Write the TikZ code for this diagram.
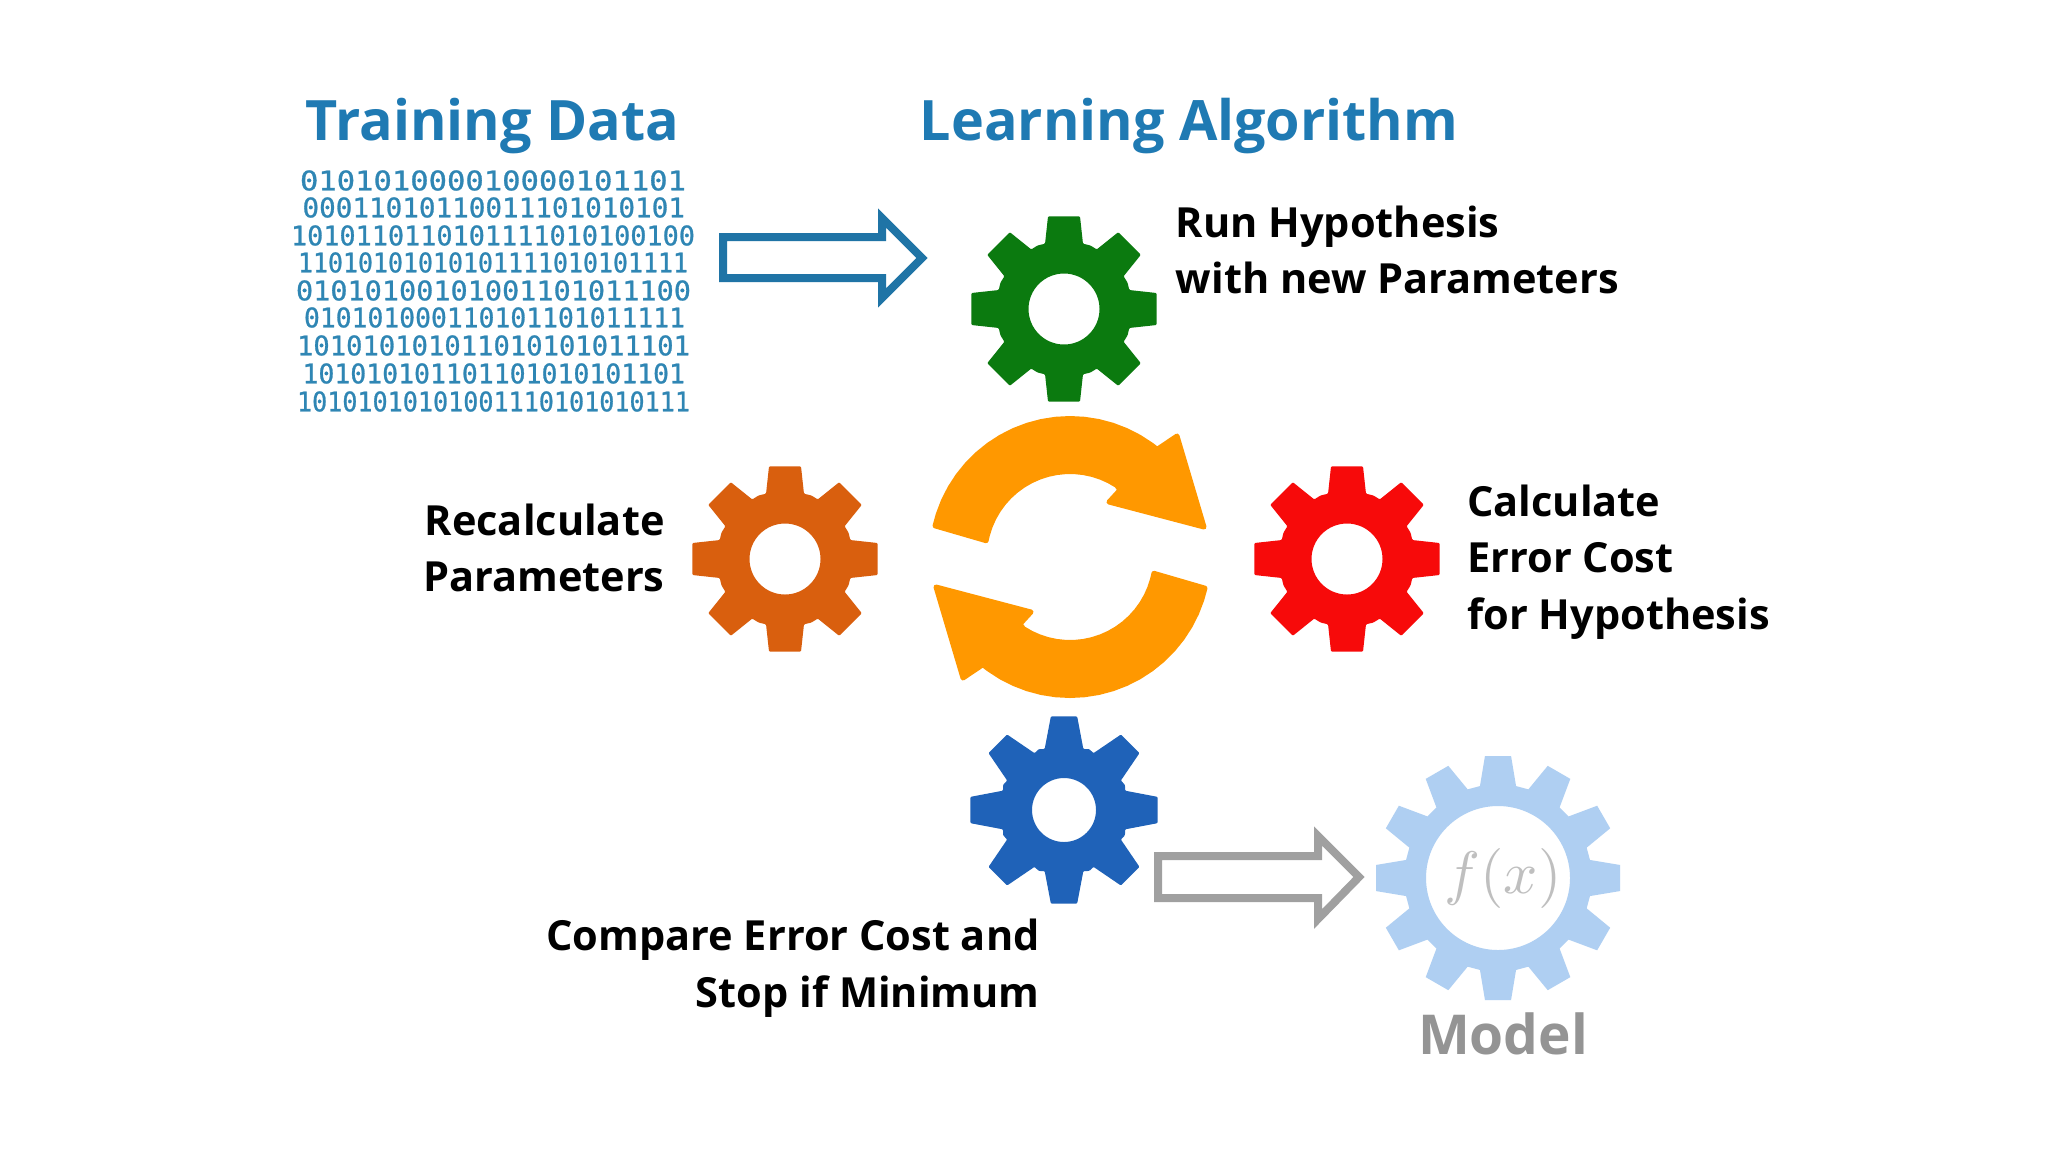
\documentclass[tikz,border=0pt]{standalone}
\usepackage{fontspec}
\setmainfont{Open Sans}
\newfontfamily\binfont[FakeBold=1]{DejaVu Sans Mono}
\definecolor{titleblue}{HTML}{1F7AB3}
\definecolor{binblue}{HTML}{2F86B4}
\definecolor{arrowblue}{HTML}{1F74A6}
\definecolor{arrowgray}{HTML}{A0A0A0}
\definecolor{loopor}{HTML}{FF9800}
\definecolor{gearg}{HTML}{0B7A0F}
\definecolor{gearo}{HTML}{D95F0E}
\definecolor{gearr}{HTML}{F70A0A}
\definecolor{gearb}{HTML}{1F62B8}
\definecolor{gearl}{HTML}{AFCFF2}
\tikzset{
  titletext/.style={font=\bfseries\fontsize{27.85}{33}\selectfont,text=titleblue,inner sep=0pt,anchor=base},
  labeltext/.style={font=\bfseries\fontsize{20.75}{28.3}\selectfont,text=black,inner sep=0pt},
  binrow/.style={inner sep=0pt,text=binblue,anchor=center},
  blockarrow/.style={fill=white,line width=4pt,miter limit=10,line join=miter},
}
% x, y, colour, hole radius, tip half-angle, tip radius, base half-angle, base radius, valley radius
\newcommand{\smallgear}[9]{%
  \fill[#3,even odd rule,shift={(#1,#2)},rounded corners=0.5pt] (-#7:#8)
    \foreach \k in {0,45,...,315}{
      -- (\k-#7:#8) -- (\k-#5:#6) -- (\k+#5:#6) -- (\k+#7:#8) -- (\k+22.5:#9)
    } -- cycle (0,0) circle[radius=#4];}
\newcommand{\binrowline}[5]{%
  \pgfmathsetmacro{\binw}{(#4-#3)*0.5}%
  \node[binrow] (#1) at ({(#3+#4)/2},{#2-1.5}) {\resizebox{\binw pt}{10pt}{\binfont #5}};}
\newcommand{\looparrow}[1]{%
  \filldraw[loopor,line width=2.5pt,line join=round,shift={(1070,557)},rotate=#1]
    (193:138.5) \foreach \a in {198,204,...,306}{ -- (\a:138.5)} -- (309:138.5)
    -- (107,-121) -- (134,-30) -- (39,-55) -- (50,-67)
    \foreach \a in {303,297,...,195}{ -- (\a:85.5)} -- (191:85.5) -- cycle;}
\begin{document}
\begin{tikzpicture}[x=0.5pt,y=-0.5pt]
\useasboundingbox[fill=white] (0,0) rectangle (2048,1152);
% titles
\node[titletext] (ttrain) at (492.5,140) {Training Data};
\node[titletext] (talgo) at (1189,140) {Learning Algorithm};
% binary block
\binrowline{b1}{182}{300}{686}{010101000010000101101}
\binrowline{b2}{209}{302.5}{685}{00011010110011101010101}
\binrowline{b3}{237}{291}{695}{1010110110101111010100100}
\binrowline{b4}{264}{298}{688}{11010101010101111010101111}
\binrowline{b5}{292}{296}{691}{01010100101001101011100}
\binrowline{b6}{319}{304}{685}{010101000110101101011111}
\binrowline{b7}{347}{297}{690}{101010101011010101011101}
\binrowline{b8}{375}{302.5}{685}{101010101101101010101101}
\binrowline{b9}{403}{297}{690}{10101010101001110101010111}
% block arrows
\draw[blockarrow,draw=arrowblue] (723,237) -- (882,237) -- (882,218) -- (922,258) -- (882,298) -- (882,278) -- (723,278) -- cycle;
\draw[blockarrow,draw=arrowgray] (1158,856) -- (1318,856) -- (1318,836) -- (1359,877) -- (1318,919) -- (1318,898) -- (1158,898) -- cycle;
% gears
\smallgear{1064}{309}{gearg}{35.5}{9.8}{94}{16.2}{68}{68.8}
\smallgear{785}{559}{gearo}{35.5}{9.8}{94}{16.2}{68}{68.8}
\smallgear{1347}{559}{gearr}{35.5}{9.8}{94}{16.2}{68}{68.8}
\smallgear{1064}{810}{gearb}{32}{8}{94.5}{17.6}{64}{66}
% loop arrows
\looparrow{0}
\looparrow{180}
% model gear
\fill[gearl,even odd rule,shift={(1498,878)}] (-11.1:93.7)
  \foreach \k in {0,30,...,330}{
    -- (\k-11.1:93.7) -- (\k-6.1:122.7) -- (\k+6.1:122.7) -- (\k+11.1:93.7)
  } -- cycle (0,0) circle[radius=72];
\node[scale=3,text=black!25,inner sep=0pt] (fx) at (1503,878) {$f(x)$};
% labels
\node[labeltext,anchor=west,align=left] (l1) at (1175.5,250) {Run Hypothesis\\with new Parameters};
\node[labeltext,anchor=east,align=right] (l2) at (665,548) {Recalculate\\Parameters};
\node[labeltext,anchor=west,align=left] (l3) at (1467,562) {Calculate\\Error Cost\\for Hypothesis};
\node[labeltext,anchor=east,align=right] (l4) at (1040,968) {Compare Error Cost and\\Stop if Minimum};
\node[font=\bfseries\fontsize{27.5}{31}\selectfont,text=black!42,inner sep=0pt,anchor=base] (lm) at (1503,1054) {Model};
\end{tikzpicture}
\end{document}
